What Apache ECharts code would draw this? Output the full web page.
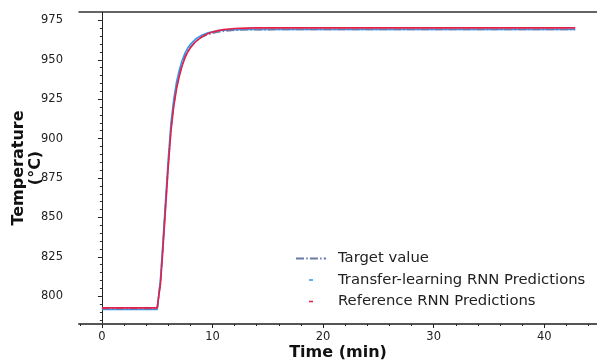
<!DOCTYPE html>
<html>
<head>
<meta charset="utf-8">
<script src="https://cdn.jsdelivr.net/npm/echarts@6/dist/echarts.min.js"></script>
<style>
  html, body { margin: 0; padding: 0; background: #fff; }
  #chart { width: 597px; height: 364px; }
</style>
</head>
<body>
<div id="chart"></div>
<script>
// Furnace temperature step response: setpoint vs. two RNN predictors
const timeMin = [0, 1, 2, 3, 4, 5, 5.1, 5.3, 5.5, 5.75, 6.0, 6.25, 6.5, 6.75, 7.0, 7.25, 7.5, 7.75, 8.0, 8.5, 9.0, 9.5, 10, 10.5, 11, 12, 13, 14, 16, 20, 25, 30, 35, 40, 42.8];

const targetValue = [792.0, 792.0, 792.0, 792.0, 792.0, 792.0, 792.0, 810, 830, 857, 884, 907, 922, 933, 941, 947, 952, 955.5, 958, 961.8, 964.2, 965.8, 966.9, 967.6, 968.1, 968.7, 969.0, 969.1, 969.2, 969.2, 969.2, 969.2, 969.2, 969.2, 969.2];

const transferRnn = [791.6, 791.6, 791.6, 791.6, 791.6, 791.6, 791.6, 811, 832, 860, 887, 910, 925, 936, 943.5, 949.5, 954, 957.3, 959.8, 963.3, 965.5, 966.9, 967.8, 968.4, 968.8, 969.1, 969.2, 969.3, 969.3, 969.3, 969.3, 969.3, 969.3, 969.3, 969.3];

const referenceRnn = [792.6, 792.6, 792.6, 792.6, 792.6, 792.6, 792.6, 808, 828, 855, 882, 905, 920.5, 931.5, 939.5, 946, 951, 954.8, 957.6, 961.7, 964.4, 966.3, 967.6, 968.5, 969.1, 969.8, 970.1, 970.2, 970.2, 970.2, 970.2, 970.2, 970.2, 970.2, 970.2];

const xMajorTicks = [0, 10, 20, 30, 40];
const xMinorTicks = [-2, 2, 4, 6, 8, 12, 14, 16, 18, 22, 24, 26, 28, 32, 34, 36, 38, 42, 44];
const yMajorTicks = [800, 825, 850, 875, 900, 925, 950, 975];
const yMinorTicks = [785, 790, 795, 805, 810, 815, 820, 830, 835, 840, 845, 855, 860, 865, 870, 880, 885, 890, 895, 905, 910, 915, 920, 930, 935, 940, 945, 955, 960, 965, 970];

const seriesNames = ['Target value', 'Transfer-learning RNN Predictions', 'Reference RNN Predictions'];

const pairs = vals => timeMin.map((t, i) => [t, vals[i]]);

const X_MIN = -2.07, X_MAX = 44.77;
const Y_MIN = 782.4, Y_MAX = 980.3;
const FONT = 'DejaVu Sans';
const INK = '#222';

const chart = echarts.init(document.getElementById('chart'), null, { renderer: 'canvas' });

chart.setOption({
  animation: false,
  backgroundColor: '#fff',
  grid: { left: 79, right: 0, top: 12, bottom: 40, containLabel: false, outerBoundsMode: 'none' },
  legend: {
    orient: 'vertical',
    left: 295,
    top: 250,
    padding: 0,
    itemWidth: 30,
    itemHeight: 14,
    itemGap: 4.5,
    itemStyle: { opacity: 0 },
    textStyle: { fontFamily: FONT, fontSize: 14.8, color: INK, padding: [0, 0, 0, 7], lineHeight: 17 },
    data: [
      { name: seriesNames[0] },
      { name: seriesNames[1], lineStyle: { type: [0, 13, 4, 13], width: 1.6 } },
      { name: seriesNames[2], lineStyle: { type: [0, 13, 4, 13], width: 1.6 } }
    ]
  },
  xAxis: [
    {
      type: 'value', min: X_MIN, max: X_MAX,
      name: 'Time (min)', nameLocation: 'middle', nameGap: 21, nameMoveOverlap: false,
      nameTextStyle: { fontFamily: FONT, fontSize: 16, fontWeight: 'bold', color: '#111' },
      axisLine: { show: true, lineStyle: { color: '#555', width: 2 } },
      axisTick: { show: true, length: 4, customValues: xMajorTicks, lineStyle: { color: INK, width: 1 } },
      axisLabel: { customValues: xMajorTicks, margin: 7, fontFamily: FONT, fontSize: 11.5, color: INK },
      splitLine: { show: false }
    },
    {
      type: 'value', min: X_MIN, max: X_MAX, position: 'bottom',
      axisLine: { show: false },
      axisTick: { show: true, length: 2, customValues: xMinorTicks, lineStyle: { color: INK, width: 1 } },
      axisLabel: { show: false },
      splitLine: { show: false }
    },
    {
      type: 'value', min: X_MIN, max: X_MAX, position: 'top',
      axisLine: { show: true, onZero: false, lineStyle: { color: '#333', width: 1.5 } },
      axisTick: { show: false },
      axisLabel: { show: false },
      splitLine: { show: false }
    }
  ],
  yAxis: [
    {
      type: 'value', min: Y_MIN, max: Y_MAX,
      name: 'Temperature\n(°C)', nameLocation: 'middle', nameGap: 35, nameMoveOverlap: false,
      nameTextStyle: { fontFamily: FONT, fontSize: 16, fontWeight: 'bold', color: '#111', lineHeight: 17 },
      axisLine: { show: true, lineStyle: { color: INK, width: 1 } },
      axisTick: { show: true, length: 4, customValues: yMajorTicks, lineStyle: { color: INK, width: 1 } },
      axisLabel: { customValues: yMajorTicks, margin: 16, fontFamily: FONT, fontSize: 11.5, color: INK },
      splitLine: { show: false }
    },
    {
      type: 'value', min: Y_MIN, max: Y_MAX, position: 'left',
      axisLine: { show: false },
      axisTick: { show: true, length: 2, customValues: yMinorTicks, lineStyle: { color: INK, width: 1 } },
      axisLabel: { show: false },
      splitLine: { show: false }
    }
  ],
  series: [
    {
      name: seriesNames[1], type: 'line', symbol: 'none', z: 2,
      xAxisIndex: 0, yAxisIndex: 0,
      data: pairs(transferRnn),
      lineStyle: { color: '#3399f0', width: 1.6 },
      itemStyle: { color: '#3399f0' }
    },
    {
      name: seriesNames[0], type: 'line', symbol: 'none', z: 3,
      xAxisIndex: 0, yAxisIndex: 0,
      data: pairs(targetValue),
      lineStyle: { color: '#6a7aa6', width: 1.6, type: [8, 2.2, 1.5, 2.2] },
      itemStyle: { color: '#6a7aa6' }
    },
    {
      name: seriesNames[2], type: 'line', symbol: 'none', z: 4,
      xAxisIndex: 0, yAxisIndex: 0,
      data: pairs(referenceRnn),
      lineStyle: { color: '#e3204b', width: 1.6 },
      itemStyle: { color: '#e3204b' }
    }
  ]
});
</script>
</body>
</html>
